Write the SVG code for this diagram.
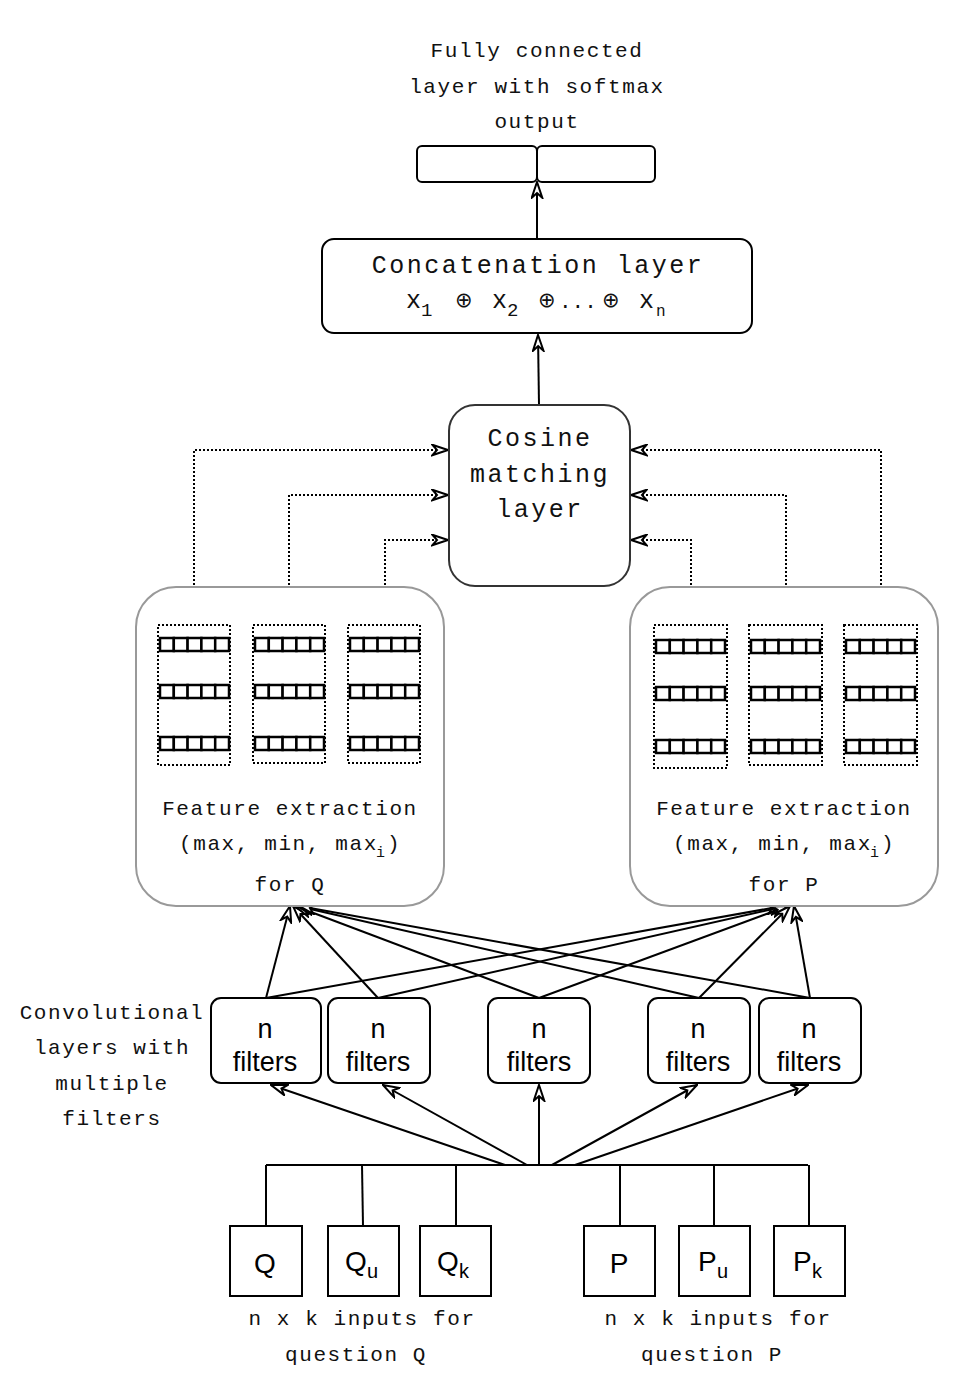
<svg xmlns="http://www.w3.org/2000/svg" width="968" height="1392" viewBox="0 0 968 1392">
<defs>
<style>
.mono{font-family:"Liberation Mono","Courier New",monospace;fill:#111;}
.sm{font-size:21px;letter-spacing:1.6px;}
.lg{font-size:25px;letter-spacing:2.5px;}
.op{font-family:"DejaVu Sans","Liberation Sans",sans-serif;font-size:21px;fill:#111;}
.sans{font-family:"Liberation Sans",Arial,sans-serif;fill:#000;}
.box{fill:#fff;stroke:#000;stroke-width:2;}
.grp{fill:#fff;stroke:#999;stroke-width:2;}
.dotbox{fill:none;stroke:#000;stroke-width:2;stroke-dasharray:2 2;}
.cell{fill:#fff;stroke:#000;stroke-width:2.5;}
.line{fill:none;stroke:#000;stroke-width:2;}
.arr{fill:none;stroke:#000;stroke-width:2;marker-end:url(#ah);}
.darr{fill:none;stroke:#000;stroke-width:2;stroke-dasharray:2 2;marker-end:url(#ah);}
</style>
<marker id="ah" viewBox="0 0 18 13" refX="17" refY="6.5" markerWidth="18" markerHeight="13" markerUnits="userSpaceOnUse" orient="auto">
<path d="M1.2,1.2 L17,6.5 L1.2,11.8 L6,6.5 Z" fill="#fff" stroke="#000" stroke-width="2" stroke-linejoin="miter"/>
</marker>
<g id="cellrow">
<rect class="cell" x="0" y="0" width="13.8" height="13"/>
<rect class="cell" x="13.8" y="0" width="13.8" height="13"/>
<rect class="cell" x="27.6" y="0" width="13.8" height="13"/>
<rect class="cell" x="41.4" y="0" width="13.8" height="13"/>
<rect class="cell" x="55.2" y="0" width="13.8" height="13"/>
</g>
</defs>
<rect width="968" height="1392" fill="#fff"/>

<g id="connectors">
<path class="arr" d="M537,239 L537,182"/>
<path class="arr" d="M539,405 L538,335"/>
<path class="darr" d="M194,625 L194,450 L448,450"/>
<path class="darr" d="M289,625 L289,495 L448,495"/>
<path class="darr" d="M385,625 L385,540 L448,540"/>
<path class="darr" d="M881,625 L881,450 L631,450"/>
<path class="darr" d="M786,625 L786,495 L631,495"/>
<path class="darr" d="M691,625 L691,540 L631,540"/>
<path class="arr" d="M266,998 L290,906"/>
<path class="arr" d="M378,998 L293,906"/>
<path class="arr" d="M539,998 L295,906"/>
<path class="arr" d="M699,998 L297,906"/>
<path class="arr" d="M810,998 L299,906"/>
<path class="arr" d="M266,998 L783,906"/>
<path class="arr" d="M378,998 L786,906"/>
<path class="arr" d="M539,998 L788,906"/>
<path class="arr" d="M699,998 L790,906"/>
<path class="arr" d="M810,998 L794,906"/>
<path class="arr" d="M505,1165 L271,1085"/>
<path class="arr" d="M527,1165 L383,1085"/>
<path class="arr" d="M539,1165 L539,1085"/>
<path class="arr" d="M552,1165 L697,1085"/>
<path class="arr" d="M575,1165 L808,1085"/>
<path class="line" d="M266,1165 L808,1165"/>
<path class="line" d="M266,1165 L266,1226"/>
<path class="line" d="M362,1165 L363,1226"/>
<path class="line" d="M456,1165 L456,1226"/>
<path class="line" d="M620,1165 L620,1226"/>
<path class="line" d="M714,1165 L714,1226"/>
<path class="line" d="M809,1165 L809,1226"/>
</g>

<g id="title">
<text class="mono sm" x="537" y="57" text-anchor="middle">Fully connected</text>
<text class="mono sm" x="537" y="93" text-anchor="middle">layer with softmax</text>
<text class="mono sm" x="537" y="128" text-anchor="middle">output</text>
</g>

<g id="output">
<rect class="box" x="417" y="146" width="120" height="36" rx="5"/>
<rect class="box" x="537" y="146" width="118" height="36" rx="5"/>
</g>

<g id="concat">
<rect class="box" x="322" y="239" width="430" height="94" rx="12"/>
<text class="mono lg" x="538" y="273" text-anchor="middle">Concatenation layer</text>
<text class="mono" font-size="25" x="406" y="308">x</text>
<text class="mono" font-size="19" x="421" y="316">1</text>
<text class="op" x="455" y="307">⊕</text>
<text class="mono" font-size="25" x="492" y="308">x</text>
<text class="mono" font-size="19" x="507" y="316">2</text>
<text class="op" x="538" y="307">⊕</text>
<text class="mono" font-size="21" x="559" y="308">...</text>
<text class="op" x="602" y="307">⊕</text>
<text class="mono" font-size="25" x="639" y="308">x</text>
<text class="mono" font-size="16" x="656" y="316" fill="#444">n</text>
</g>

<g id="cosine">
<rect x="449" y="405" width="181" height="181" rx="26" fill="#fff" stroke="#333" stroke-width="2"/>
<text class="mono lg" x="540" y="446" text-anchor="middle">Cosine</text>
<text class="mono lg" x="540" y="482" text-anchor="middle">matching</text>
<text class="mono lg" x="540" y="517" text-anchor="middle">layer</text>
</g>

<g id="featQ">
<rect class="grp" x="136" y="587" width="308" height="319" rx="40"/>
<rect class="dotbox" x="158" y="625" width="72" height="140"/>
<rect class="dotbox" x="253" y="625" width="72" height="138"/>
<rect class="dotbox" x="348" y="625" width="72" height="138"/>
<use href="#cellrow" x="160" y="638"/>
<use href="#cellrow" x="160" y="685"/>
<use href="#cellrow" x="160" y="737"/>
<use href="#cellrow" x="255" y="638"/>
<use href="#cellrow" x="255" y="685"/>
<use href="#cellrow" x="255" y="737"/>
<use href="#cellrow" x="350" y="638"/>
<use href="#cellrow" x="350" y="685"/>
<use href="#cellrow" x="350" y="737"/>
<text class="mono sm" x="290" y="815" text-anchor="middle">Feature extraction</text>
<text class="mono sm" x="179" y="850">(max, min, max</text>
<text class="mono" font-size="15" x="376" y="857">i</text>
<text class="mono sm" x="387" y="850">)</text>
<text class="mono sm" x="290" y="891" text-anchor="middle">for Q</text>
</g>

<g id="featP">
<rect class="grp" x="630" y="587" width="308" height="319" rx="40"/>
<rect class="dotbox" x="654" y="625" width="73" height="143"/>
<rect class="dotbox" x="749" y="625" width="73" height="140"/>
<rect class="dotbox" x="844" y="625" width="73" height="140"/>
<use href="#cellrow" x="656" y="640"/>
<use href="#cellrow" x="656" y="687"/>
<use href="#cellrow" x="656" y="740"/>
<use href="#cellrow" x="751" y="640"/>
<use href="#cellrow" x="751" y="687"/>
<use href="#cellrow" x="751" y="740"/>
<use href="#cellrow" x="846" y="640"/>
<use href="#cellrow" x="846" y="687"/>
<use href="#cellrow" x="846" y="740"/>
<text class="mono sm" x="784" y="815" text-anchor="middle">Feature extraction</text>
<text class="mono sm" x="673" y="850">(max, min, max</text>
<text class="mono" font-size="15" x="870" y="857">i</text>
<text class="mono sm" x="881" y="850">)</text>
<text class="mono sm" x="784" y="891" text-anchor="middle">for P</text>
</g>

<g id="convlabel">
<text class="mono sm" x="112" y="1019" text-anchor="middle">Convolutional</text>
<text class="mono sm" x="112" y="1054" text-anchor="middle">layers with</text>
<text class="mono sm" x="112" y="1090" text-anchor="middle">multiple</text>
<text class="mono sm" x="112" y="1125" text-anchor="middle">filters</text>
</g>

<g id="filter1">
<rect class="box" x="211" y="998" width="110" height="85" rx="10"/>
<text class="sans" font-size="27" x="265" y="1038" text-anchor="middle">n</text>
<text class="sans" font-size="27" x="265" y="1071" text-anchor="middle">filters</text>
</g>
<g id="filter2">
<rect class="box" x="328" y="998" width="102" height="85" rx="10"/>
<text class="sans" font-size="27" x="378" y="1038" text-anchor="middle">n</text>
<text class="sans" font-size="27" x="378" y="1071" text-anchor="middle">filters</text>
</g>
<g id="filter3">
<rect class="box" x="488" y="998" width="102" height="85" rx="10"/>
<text class="sans" font-size="27" x="539" y="1038" text-anchor="middle">n</text>
<text class="sans" font-size="27" x="539" y="1071" text-anchor="middle">filters</text>
</g>
<g id="filter4">
<rect class="box" x="648" y="998" width="102" height="85" rx="10"/>
<text class="sans" font-size="27" x="698" y="1038" text-anchor="middle">n</text>
<text class="sans" font-size="27" x="698" y="1071" text-anchor="middle">filters</text>
</g>
<g id="filter5">
<rect class="box" x="759" y="998" width="102" height="85" rx="10"/>
<text class="sans" font-size="27" x="809" y="1038" text-anchor="middle">n</text>
<text class="sans" font-size="27" x="809" y="1071" text-anchor="middle">filters</text>
</g>

<g id="inQ">
<rect class="box" x="230" y="1226" width="72" height="70"/>
<text class="sans" font-size="28" x="265" y="1273" text-anchor="middle">Q</text>
</g>
<g id="inQu">
<rect class="box" x="328" y="1226" width="71" height="70"/>
<text class="sans" font-size="28" x="345" y="1271">Q</text>
<text class="sans" font-size="20" x="367" y="1278">u</text>
</g>
<g id="inQk">
<rect class="box" x="420" y="1226" width="71" height="70"/>
<text class="sans" font-size="28" x="437" y="1271">Q</text>
<text class="sans" font-size="20" x="459" y="1278">k</text>
</g>
<g id="inP">
<rect class="box" x="584" y="1226" width="71" height="70"/>
<text class="sans" font-size="28" x="619" y="1273" text-anchor="middle">P</text>
</g>
<g id="inPu">
<rect class="box" x="679" y="1226" width="71" height="70"/>
<text class="sans" font-size="28" x="698" y="1271">P</text>
<text class="sans" font-size="20" x="717" y="1278">u</text>
</g>
<g id="inPk">
<rect class="box" x="774" y="1226" width="71" height="70"/>
<text class="sans" font-size="28" x="793" y="1271">P</text>
<text class="sans" font-size="20" x="812" y="1278">k</text>
</g>

<g id="inlabels">
<text class="mono sm" x="362" y="1325" text-anchor="middle">n x k inputs for</text>
<text class="mono sm" x="356" y="1361" text-anchor="middle">question Q</text>
<text class="mono sm" x="718" y="1325" text-anchor="middle">n x k inputs for</text>
<text class="mono sm" x="712" y="1361" text-anchor="middle">question P</text>
</g>
</svg>
